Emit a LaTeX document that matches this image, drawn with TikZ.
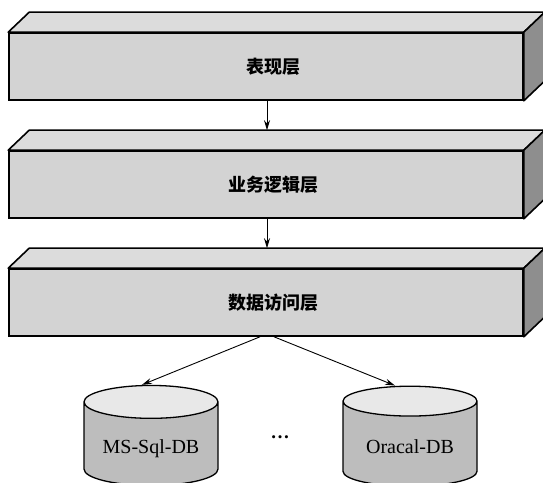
\documentclass[tikz,border=0pt]{standalone}
\usepackage{fontspec}
\setmainfont{Liberation Serif}
\newfontfamily\cjk{Noto Sans CJK SC}
\usetikzlibrary{arrows.meta,shapes.geometric}
\definecolor{layerfront}{HTML}{D3D3D3}
\definecolor{layertop}{HTML}{DCDCDC}
\definecolor{layerside}{HTML}{8E8E8E}
\definecolor{dbbody}{HTML}{BDBDBD}
\definecolor{dbend}{HTML}{E8E8E8}

\begin{document}
\begin{tikzpicture}[
    x=1pt, y=1pt,
    face/.style={rectangle, draw=black, fill=layerfront, line width=1.6pt,
      minimum width=514pt, minimum height=67pt, inner sep=0pt},
    topface/.style={draw=black, fill=layertop, line width=1.6pt, line join=round},
    sideface/.style={draw=black, fill=layerside, line width=1.6pt, line join=round},
    lbl/.style={font=\cjk\bfseries\fontsize{18}{18}\selectfont},
    db/.style={cylinder, shape border rotate=90, aspect=0.34, draw=black,
      line width=1.3pt, cylinder uses custom fill, cylinder body fill=dbbody,
      cylinder end fill=dbend, minimum width=134pt, minimum height=100pt,
      inner sep=0pt, text height=24pt, text depth=5pt,
      font=\fontsize{20}{20}\selectfont},
    link/.style={draw=black, line width=0.9pt, -{Stealth[length=10pt,width=6pt]}},
  ]

  \def\dx{21}
  \def\dy{20}

  \useasboundingbox (0,0) rectangle (543,482);
  \clip (0,0) rectangle (543,482);

  % ---- the three layers, drawn as flat boxes
  \foreach \n/\y/\t in {pres/415.5/表现层, biz/297.5/业务逻辑层, dal/179.5/数据访问层} {
    \node[face] (\n) at (266,\y) {};
    \filldraw[topface] (\n.north west) -- ++(\dx,\dy)
      -- ([shift={(\dx,\dy)}]\n.north east) -- (\n.north east) -- cycle;
    \filldraw[sideface] (\n.north east) -- ++(\dx,\dy)
      -- ([shift={(\dx,\dy)}]\n.south east) -- (\n.south east) -- cycle;
    \node[lbl] (\n-lbl) at ([xshift=7pt]\n.center) {\t};
    \coordinate (\n-back) at ([yshift=\dy]\n.north);
  }

  % ---- calls from one layer down to the next
  \draw[link] ([xshift=1pt]pres.south) -- ([xshift=1pt]pres.south |- biz-back);
  \draw[link] ([xshift=1pt]biz.south) -- ([xshift=1pt]biz.south |- dal-back);

  % ---- the databases below the data layer
  \node[db] (mssql) at (151,38) {MS-Sql-DB};
  \node[db] (oracle) at (410,38) {Oracal-DB};
  \node[font=\fontsize{19}{19}\selectfont] (dots) at (280,45) {\textbf{…}};

  \draw[link] ([xshift=-6pt]dal.south) -- ([xshift=-9pt]mssql.north);
  \draw[link] ([xshift=8pt]dal.south) -- ([xshift=-15pt]oracle.north);

\end{tikzpicture}
\end{document}
